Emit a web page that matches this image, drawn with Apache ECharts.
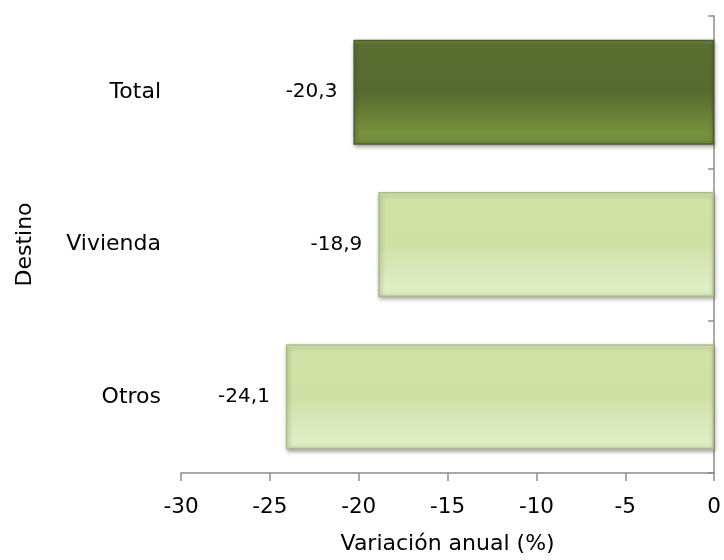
<!DOCTYPE html>
<html>
<head>
<meta charset="utf-8">
<script src="https://cdn.jsdelivr.net/npm/echarts@6/dist/echarts.min.js"></script>
<style>html,body{margin:0;padding:0;background:#fff}#c{width:724px;height:560px}</style>
</head>
<body>
<div id="c"></div>
<script>
var categories = ['Otros', 'Vivienda', 'Total'];
var values = [-24.1, -18.9, -20.3];
var xTicks = { min: -30, max: 0, interval: 5 };
var xTitle = 'Variación anual (%)';
var yTitle = 'Destino';

var darkFill = {type:'linear',x:0,y:0,x2:0,y2:1,colorStops:[
  {offset:0,color:'#7d9152'},{offset:0.06,color:'#5c6f33'},{offset:0.5,color:'#576a2f'},
  {offset:0.9,color:'#77923d'},{offset:1,color:'#6d8738'}]};
var lightFill = {type:'linear',x:0,y:0,x2:0,y2:1,colorStops:[
  {offset:0,color:'#e6f0cc'},{offset:0.06,color:'#d1e2a7'},{offset:0.5,color:'#d0e1a6'},
  {offset:0.92,color:'#e0edc6'},{offset:1,color:'#d6e6b6'}]};

var font = 'DejaVu Sans, sans-serif';
var chart = echarts.init(document.getElementById('c'));
chart.setOption({
  animation: false,
  grid: { left: 181, right: 9, top: 16, bottom: 82 },
  xAxis: {
    type: 'value', min: xTicks.min, max: xTicks.max, interval: xTicks.interval,
    name: xTitle, nameLocation: 'middle', nameGap: 60,
    nameTextStyle: { fontFamily: font, fontSize: 22, color: '#000' },
    axisLine: { show: true, onZero: false, lineStyle: { color: '#8c8c8c', width: 1.5 } },
    axisTick: { show: true, length: 8, lineStyle: { color: '#8c8c8c', width: 1.5 } },
    axisLabel: { fontFamily: font, fontSize: 21.5, color: '#000', margin: 23 },
    splitLine: { show: false }
  },
  yAxis: [{
    type: 'category', data: categories, position: 'left',
    name: yTitle, nameLocation: 'middle', nameGap: 145, nameRotate: 90,
    nameTextStyle: { fontFamily: font, fontSize: 22, color: '#000' },
    axisLine: { show: false }, axisTick: { show: false },
    axisLabel: { fontFamily: font, fontSize: 22, color: '#000', margin: 20 }
  }, {
    type: 'category', data: categories, position: 'right',
    axisLine: { show: true, onZero: false, lineStyle: { color: '#8c8c8c', width: 1.5 } },
    axisTick: { show: true, inside: true, length: 6, lineStyle: { color: '#8c8c8c', width: 1.5 } },
    axisLabel: { show: false }
  }],
  series: [{
    type: 'bar', barWidth: 105, yAxisIndex: 0,
    data: values.map(function (v, i) {
      var dark = categories[i] === 'Total';
      return { value: v, itemStyle: {
        color: dark ? darkFill : lightFill,
        borderColor: dark ? '#4b5e26' : '#a9bd86', borderWidth: 1.5,
        shadowColor: 'rgba(0,0,0,0.35)', shadowBlur: 4, shadowOffsetX: 1, shadowOffsetY: 2 } };
    }),
    label: {
      show: true, position: 'left', distance: 16,
      fontFamily: font, fontSize: 20, color: '#000',
      formatter: function (p) { return String(p.value).replace('.', ','); }
    }
  }]
});
</script>
</body>
</html>
